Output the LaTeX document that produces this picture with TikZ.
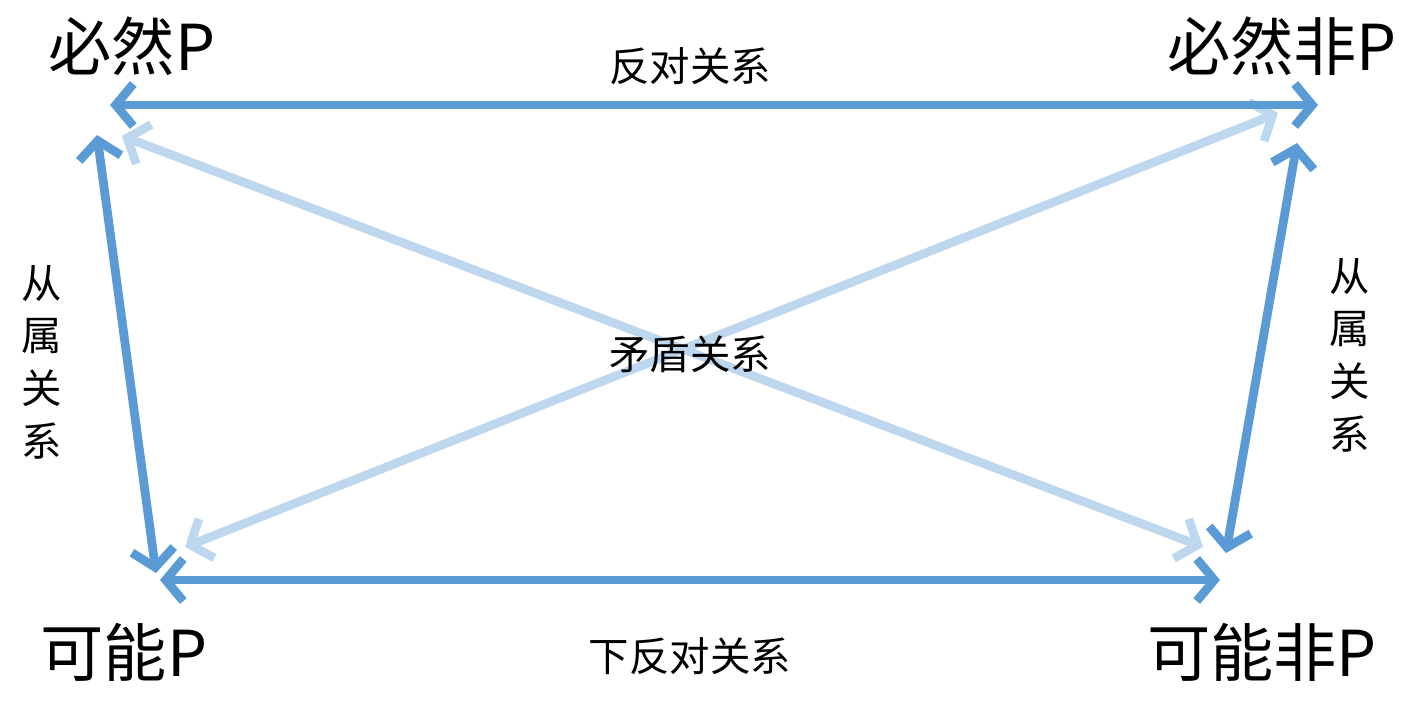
\documentclass[tikz,border=0pt]{standalone}
\usepackage{fontspec}
\setmainfont{Noto Sans CJK SC}
\usetikzlibrary{arrows.meta}
\definecolor{dk}{RGB}{91,155,213}
\definecolor{lt}{RGB}{189,215,238}
\tikzset{
  arr/.style={line width=5pt,{Straight Barb[length=10pt,width=24pt,line width=5pt]}-{Straight Barb[length=10pt,width=24pt,line width=5pt]}},
  big/.style={font=\fontsize{36}{40}\selectfont,inner sep=0pt},
  lab/.style={font=\fontsize{23}{30}\selectfont,inner sep=0pt,align=center}
}
\begin{document}
\begin{tikzpicture}[x=0.02cm,y=-0.02cm]
\useasboundingbox (0,0) rectangle (1421,703);
\coordinate (tl) at (110,105); \coordinate (tr) at (1318,105);
\coordinate (bl) at (160,580); \coordinate (br) at (1220,580);
\coordinate (lu) at (97,135); \coordinate (ld) at (156,573);
\coordinate (ru) at (1297,143); \coordinate (rd) at (1226,553);
\coordinate (d1a) at (122,136); \coordinate (d1b) at (1203,547);
\coordinate (d2a) at (1278,113); \coordinate (d2b) at (185,547);
\draw[arr,lt] (d1a) -- (d1b);
\draw[arr,lt] (d2a) -- (d2b);
\draw[arr,dk] (tl) -- (tr);
\draw[arr,dk] (bl) -- (br);
\draw[arr,dk] (lu) -- (ld);
\draw[arr,dk] (ru) -- (rd);
\node[big] (a) at (132,46) {必然P};
\node[big] (b) at (1282,46) {必然非P};
\node[big] (c) at (124,652) {可能P};
\node[big] (d) at (1262,652) {可能非P};
\node[lab] (e) at (690,66) {反对关系};
\node[lab] (f) at (690,656) {下反对关系};
\node[lab] (g) at (690,354) {矛盾关系};
\node[lab] (h) at (42,362) {从\\属\\关\\系};
\node[lab] (i) at (1350,355) {从\\属\\关\\系};
\end{tikzpicture}
\end{document}
